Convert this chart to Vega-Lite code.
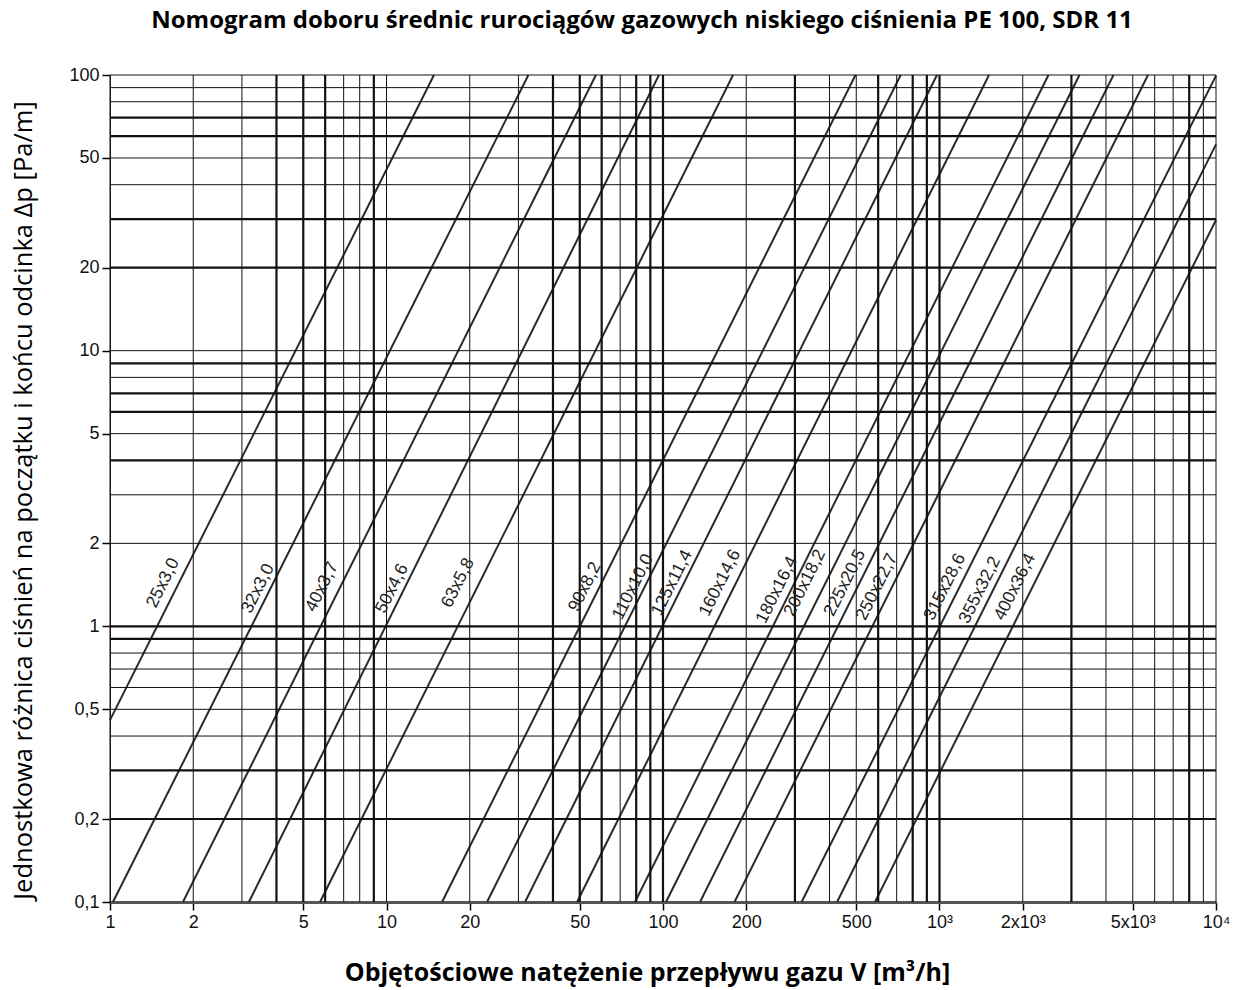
{
  "$schema": "https://vega.github.io/schema/vega-lite/v6.json",
  "autosize": {"type": "none"},
  "width": 1106,
  "height": 827,
  "padding": {"left": 110, "top": 75, "right": 20, "bottom": 88},
  "background": "white",
  "title": {
    "text": "Nomogram doboru średnic rurociągów gazowych niskiego ciśnienia PE 100, SDR 11",
    "font": "Open Sans",
    "fontSize": 24,
    "fontWeight": "bold",
    "color": "#000",
    "anchor": "middle",
    "frame": "group",
    "offset": 33,
    "dx": -21
  },
  "config": {
    "view": {"stroke": null},
    "axis": {"grid": false, "zindex": 1}
  },
  "datasets": {
    "vgrid": [
      {"x": 1, "kind": "thin"}, {"x": 2, "kind": "thin"}, {"x": 3, "kind": "thin"}, {"x": 4, "kind": "thick"},
      {"x": 5, "kind": "thick"}, {"x": 6, "kind": "thick"}, {"x": 7, "kind": "thin"}, {"x": 8, "kind": "thin"},
      {"x": 9, "kind": "thick"}, {"x": 10, "kind": "thin"}, {"x": 20, "kind": "thin"}, {"x": 30, "kind": "thin"},
      {"x": 40, "kind": "thick"}, {"x": 50, "kind": "thick"}, {"x": 60, "kind": "thick"}, {"x": 70, "kind": "thin"},
      {"x": 80, "kind": "thick"}, {"x": 90, "kind": "thick"}, {"x": 100, "kind": "thick"}, {"x": 200, "kind": "thin"},
      {"x": 300, "kind": "thick"}, {"x": 400, "kind": "thin"}, {"x": 500, "kind": "thin"}, {"x": 600, "kind": "thick"},
      {"x": 700, "kind": "thin"}, {"x": 800, "kind": "thick"}, {"x": 900, "kind": "thick"}, {"x": 1000, "kind": "thick"},
      {"x": 2000, "kind": "thin"}, {"x": 3000, "kind": "thick"}, {"x": 4000, "kind": "thin"}, {"x": 5000, "kind": "thin"},
      {"x": 6000, "kind": "thin"}, {"x": 7000, "kind": "thin"}, {"x": 8000, "kind": "thick"}, {"x": 9000, "kind": "thin"},
      {"x": 10000, "kind": "thin"}
    ],
    "hgrid": [
      {"y": 100, "kind": "thin"}, {"y": 90, "kind": "thin"}, {"y": 80, "kind": "thin"}, {"y": 70, "kind": "thick"},
      {"y": 60, "kind": "thick"}, {"y": 50, "kind": "thin"}, {"y": 40, "kind": "thin"}, {"y": 30, "kind": "thick"},
      {"y": 20, "kind": "thick"}, {"y": 10, "kind": "thin"}, {"y": 9, "kind": "thick"}, {"y": 8, "kind": "thin"},
      {"y": 7, "kind": "thick"}, {"y": 6, "kind": "thick"}, {"y": 5, "kind": "thin"}, {"y": 4, "kind": "thick"},
      {"y": 3, "kind": "thin"}, {"y": 2, "kind": "thin"}, {"y": 1, "kind": "thick"}, {"y": 0.9, "kind": "thick"},
      {"y": 0.8, "kind": "thin"}, {"y": 0.7, "kind": "thin"}, {"y": 0.6, "kind": "thin"}, {"y": 0.5, "kind": "thin"},
      {"y": 0.4, "kind": "thin"}, {"y": 0.3, "kind": "thick"}, {"y": 0.2, "kind": "thick"}
    ],
    "pipes": [
      {"pipe": "25x3,0", "x": 1, "y": 0.457}, {"pipe": "25x3,0", "x": 14.85, "y": 100},
      {"pipe": "32x3,0", "x": 1.025, "y": 0.1}, {"pipe": "32x3,0", "x": 32.6, "y": 100},
      {"pipe": "40x3,7", "x": 1.836, "y": 0.1}, {"pipe": "40x3,7", "x": 57.2, "y": 100},
      {"pipe": "50x4,6", "x": 3.18, "y": 0.1}, {"pipe": "50x4,6", "x": 96.7, "y": 100},
      {"pipe": "63x5,8", "x": 5.75, "y": 0.1}, {"pipe": "63x5,8", "x": 179.2, "y": 100},
      {"pipe": "90x8,2", "x": 15.88, "y": 0.1}, {"pipe": "90x8,2", "x": 496.8, "y": 100},
      {"pipe": "110x10,0", "x": 23.1, "y": 0.1}, {"pipe": "110x10,0", "x": 723.9, "y": 100},
      {"pipe": "125x11,4", "x": 31.7, "y": 0.1}, {"pipe": "125x11,4", "x": 979, "y": 100},
      {"pipe": "160x14,6", "x": 48.9, "y": 0.1}, {"pipe": "160x14,6", "x": 1510, "y": 100},
      {"pipe": "180x16,4", "x": 79.2, "y": 0.1}, {"pipe": "180x16,4", "x": 2478, "y": 100},
      {"pipe": "200x18,2", "x": 102.5, "y": 0.1}, {"pipe": "200x18,2", "x": 3208, "y": 100},
      {"pipe": "225x20,5", "x": 136.1, "y": 0.1}, {"pipe": "225x20,5", "x": 4259, "y": 100},
      {"pipe": "250x22,7", "x": 181.4, "y": 0.1}, {"pipe": "250x22,7", "x": 5676, "y": 100},
      {"pipe": "315x28,6", "x": 317.1, "y": 0.1}, {"pipe": "315x28,6", "x": 10000, "y": 99.5},
      {"pipe": "355x32,2", "x": 426, "y": 0.1}, {"pipe": "355x32,2", "x": 10000, "y": 56},
      {"pipe": "400x36,4", "x": 584.5, "y": 0.1}, {"pipe": "400x36,4", "x": 10000, "y": 29.8}
    ],
    "labels": [
      {"pipe": "25x3,0", "x": 1.555, "y": 1.437},
      {"pipe": "32x3,0", "x": 3.43, "y": 1.37},
      {"pipe": "40x3,7", "x": 5.845, "y": 1.39},
      {"pipe": "50x4,6", "x": 10.47, "y": 1.37},
      {"pipe": "63x5,8", "x": 18.14, "y": 1.437},
      {"pipe": "90x8,2", "x": 52.2, "y": 1.39},
      {"pipe": "110x10,0", "x": 77.9, "y": 1.39},
      {"pipe": "125x11,4", "x": 107.8, "y": 1.437},
      {"pipe": "160x14,6", "x": 160.8, "y": 1.437},
      {"pipe": "180x16,4", "x": 258.4, "y": 1.355},
      {"pipe": "200x18,2", "x": 326.3, "y": 1.437},
      {"pipe": "225x20,5", "x": 455.1, "y": 1.437},
      {"pipe": "250x22,7", "x": 594.3, "y": 1.39},
      {"pipe": "315x28,6", "x": 1047, "y": 1.39},
      {"pipe": "355x32,2", "x": 1401, "y": 1.355},
      {"pipe": "400x36,4", "x": 1876, "y": 1.39}
    ]
  },
  "layer": [
    {
      "data": {"name": "pipes"},
      "mark": {"type": "line", "color": "#2a2a2a", "strokeWidth": 2},
      "encoding": {
        "x": {
          "field": "x", "type": "quantitative",
          "scale": {"type": "log", "domain": [1, 10000], "nice": false, "zero": false},
          "axis": {
            "title": "Objętościowe natężenie przepływu gazu V [m³/h]",
            "titleFont": "Open Sans", "titleFontSize": 25, "titleFontWeight": "bold", "titleColor": "#000",
            "titleX": 537, "titleY": 78, "titleAlign": "center", "titleBaseline": "alphabetic",
            "values": [1, 2, 5, 10, 20, 50, 100, 200, 500, 1000, 2000, 5000, 10000],
            "labelExpr": "datum.value == 1000 ? '10³' : datum.value == 2000 ? '2x10³' : datum.value == 5000 ? '5x10³' : datum.value == 10000 ? '10⁴' : format(datum.value, 'd')",
            "labelFont": "Liberation Sans", "labelFontSize": 18, "labelColor": "#111", "labelPadding": 3,
            "labelFlush": false, "labelOverlap": false,
            "domainColor": "#555", "domainWidth": 3,
            "tickColor": "#000", "tickWidth": 1.5, "tickSize": 8
          }
        },
        "y": {
          "field": "y", "type": "quantitative",
          "scale": {"type": "log", "domain": [0.1, 100], "nice": false, "zero": false},
          "axis": {
            "title": "Jednostkowa różnica ciśnień na początku i końcu odcinka Δp [Pa/m]",
            "titleFont": "Open Sans", "titleFontSize": 25.5, "titleFontWeight": "normal", "titleColor": "#000",
            "titleX": -87, "titleY": 425, "titleAlign": "center", "titleBaseline": "middle", "titleAngle": -90,
            "values": [0.1, 0.2, 0.5, 1, 2, 5, 10, 20, 50, 100],
            "labelExpr": "datum.value < 1 ? replace(format(datum.value, '.1f'), '.', ',') : format(datum.value, 'd')",
            "labelFont": "Liberation Sans", "labelFontSize": 18, "labelColor": "#111", "labelPadding": 3,
            "labelFlush": false, "labelOverlap": false,
            "domainColor": "#222", "domainWidth": 1,
            "tickColor": "#000", "tickWidth": 1.5, "tickSize": 8
          }
        },
        "detail": {"field": "pipe", "type": "nominal"}
      }
    },
    {
      "data": {"name": "vgrid"},
      "mark": {"type": "rule", "color": "#111"},
      "encoding": {
        "x": {"field": "x", "type": "quantitative", "scale": {"type": "log", "domain": [1, 10000], "nice": false, "zero": false}},
        "strokeWidth": {"field": "kind", "type": "nominal", "scale": {"domain": ["thin", "thick"], "range": [1, 2.2]}, "legend": null}
      }
    },
    {
      "data": {"name": "hgrid"},
      "mark": {"type": "rule", "color": "#111"},
      "encoding": {
        "y": {"field": "y", "type": "quantitative", "scale": {"type": "log", "domain": [0.1, 100], "nice": false, "zero": false}},
        "strokeWidth": {"field": "kind", "type": "nominal", "scale": {"domain": ["thin", "thick"], "range": [1, 2.2]}, "legend": null}
      }
    },
    {
      "data": {"name": "labels"},
      "mark": {"type": "text", "font": "Liberation Sans", "fontSize": 17.5, "angle": -63.4, "align": "center", "baseline": "middle", "color": "#222"},
      "encoding": {
        "x": {"field": "x", "type": "quantitative", "scale": {"type": "log", "domain": [1, 10000], "nice": false, "zero": false}},
        "y": {"field": "y", "type": "quantitative", "scale": {"type": "log", "domain": [0.1, 100], "nice": false, "zero": false}},
        "text": {"field": "pipe", "type": "nominal"}
      }
    }
  ]
}
